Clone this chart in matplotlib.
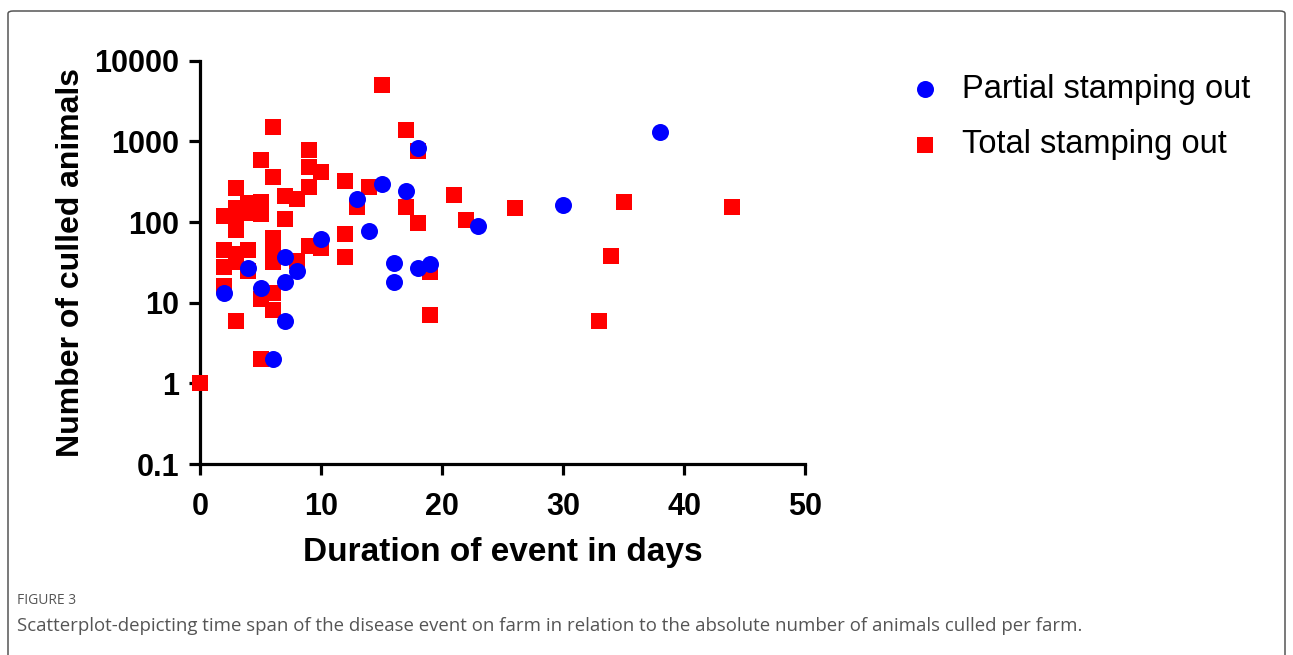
import matplotlib
matplotlib.use("Agg")
import matplotlib.pyplot as plt
from matplotlib.patches import FancyBboxPatch

# Partial stamping out (blue circles)
partial_days = [2, 4, 5, 6, 7, 7, 7, 8, 10, 13, 14, 15, 16, 16, 17, 18, 18, 19, 23, 30, 38]
partial_culled = [13, 27, 15, 2, 37, 18, 6, 25, 61, 195, 78, 295, 31, 18, 245, 820, 27, 30, 90, 162, 1300]

# Total stamping out (red squares)
total_days = [0, 2, 2, 2, 2, 3, 3, 3, 3, 3, 3, 3, 4, 4, 4, 4, 5, 5, 5, 5, 5,
              6, 6, 6, 6, 6, 6, 6, 7, 7, 8, 8, 9, 9, 9, 9, 10, 10, 12, 12, 12,
              13, 14, 15, 17, 17, 18, 18, 19, 19, 21, 22, 26, 33, 34, 35, 44]
total_culled = [1, 118, 45, 28, 16, 265, 150, 120, 80, 40, 32, 6, 170, 130, 45, 25, 590, 175, 125, 11, 2,
                1500, 360, 63, 45, 32, 13, 8, 210, 108, 195, 33, 780, 480, 275, 50, 420, 48, 320, 72, 37,
                155, 270, 5000, 1400, 152, 750, 98, 24, 7, 215, 107, 150, 6, 38, 175, 155]

x_ticks = [0, 10, 20, 30, 40, 50]
y_ticks = [0.1, 1, 10, 100, 1000, 10000]
y_tick_labels = ["0.1", "1", "10", "100", "1000", "10000"]

W, H = 1293, 655
fig = plt.figure(figsize=(W / 100, H / 100), dpi=100)

# outer frame (open at the bottom edge of the image)
frame = FancyBboxPatch((8 / W, -0.1), (1285 - 8) / W, 1.1 - 11 / H,
                       boxstyle="round,pad=0,rounding_size=0.004",
                       transform=fig.transFigure, fill=False,
                       edgecolor="#555555", linewidth=1.1)
fig.patches.append(frame)

ax = fig.add_axes([200 / W, 1 - 464 / H, (805 - 200) / W, (464 - 60.7) / H])
ax.set_yscale("log")
ax.set_xlim(0, 50)
ax.set_ylim(0.1, 10000)

ax.scatter(total_days, total_culled, marker="s", s=130, color="#ff0000",
           linewidths=0, clip_on=False, zorder=3, label="Total stamping out")
ax.scatter(partial_days, partial_culled, marker="o", s=150, color="#0000ff",
           linewidths=0, clip_on=False, zorder=4, label="Partial stamping out")

for side in ["top", "right"]:
    ax.spines[side].set_visible(False)
for side in ["left", "bottom"]:
    ax.spines[side].set_linewidth(2.3)
    ax.spines[side].set_zorder(2)

ax.set_xticks(x_ticks)
ax.set_xticklabels([str(t) for t in x_ticks])
ax.set_yticks(y_ticks)
ax.set_yticklabels(y_tick_labels)
ax.minorticks_off()
ax.tick_params(axis="both", direction="out", length=8, width=2.3)
ax.tick_params(axis="x", pad=12)
ax.tick_params(axis="y", pad=7)

for lab in ax.get_xticklabels() + ax.get_yticklabels():
    lab.set_fontfamily("Liberation Sans")
    lab.set_fontweight("bold")
    lab.set_fontsize(22)

ax.set_xlabel("Duration of event in days", fontfamily="Liberation Sans",
              fontweight="bold", fontsize=24, labelpad=11)
ax.set_ylabel("Number of culled animals", fontfamily="Liberation Sans",
              fontweight="bold", fontsize=23, labelpad=6)

handles, labels = ax.get_legend_handles_labels()
leg = ax.legend(handles[::-1], labels[::-1], loc="upper left",
                bbox_to_anchor=(905 / W, 1 - 74 / H), bbox_transform=fig.transFigure,
                frameon=False, prop=dict(family="Liberation Sans", size=23.5),
                handletextpad=0.55, handlelength=1.2, labelspacing=0.75, markerscale=1.0,
                borderaxespad=0, borderpad=0)

fig.text(17 / W, 1 - 600 / H, "FIGURE 3", fontfamily="Open Sans", fontsize=10,
         color="#555555", va="center", ha="left")
fig.text(17 / W, 1 - 626 / H,
         "Scatterplot-depicting time span of the disease event on farm in relation to the absolute number of animals culled per farm.",
         fontfamily="Open Sans", fontsize=13.4, color="#555555", va="center", ha="left")

fig.savefig("out.png", dpi=100)
